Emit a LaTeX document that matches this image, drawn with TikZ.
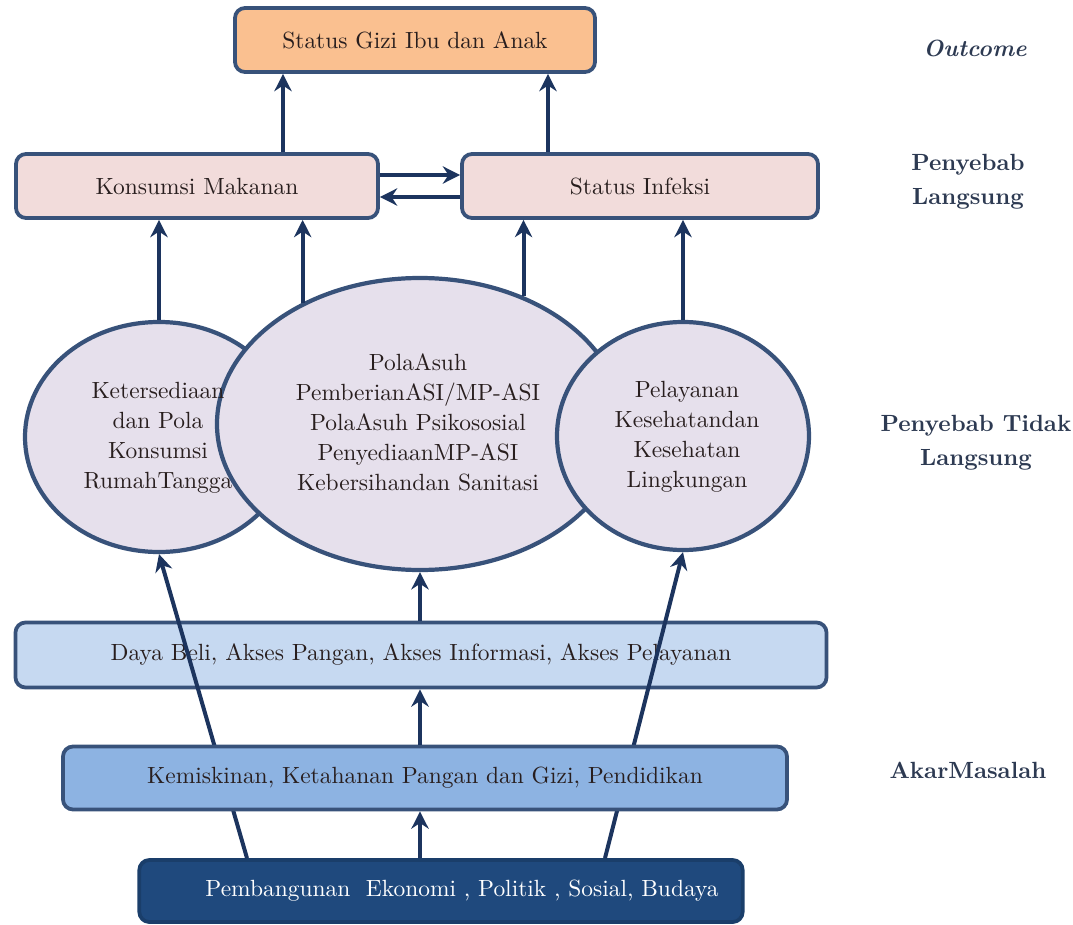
\documentclass[tikz,border=0pt]{standalone}
\usetikzlibrary{shapes.geometric,arrows.meta}
\definecolor{garis}{RGB}{56,82,122}
\definecolor{panahc}{RGB}{28,52,94}
\definecolor{oranye}{RGB}{250,192,144}
\definecolor{merahmuda}{RGB}{242,220,219}
\definecolor{lavender}{RGB}{230,224,236}
\definecolor{birumuda}{RGB}{198,217,241}
\definecolor{birusedang}{RGB}{141,179,226}
\definecolor{birutua}{RGB}{31,73,125}
\definecolor{teks}{RGB}{40,30,30}
\definecolor{label}{RGB}{45,58,82}
\begin{document}
\begin{tikzpicture}[x=0.015cm,y=-0.015cm,
    kotak/.style={draw=garis,line width=1.6pt,rounded corners=1.5mm,text=teks,minimum height=0.96cm,inner sep=0pt},
    lingkar/.style={ellipse,draw=garis,line width=1.8pt,fill=lavender,inner sep=0pt},
    isi/.style={text=teks,align=center,font=\fontsize{10}{12.8}\selectfont},
    ket/.style={text=label,align=center,font=\bfseries\fontsize{10}{14.5}\selectfont},
    panah/.style={draw=panahc,line width=1.7pt,-{Stealth[length=2.6mm,width=2.6mm]}}]
        \useasboundingbox (0,0) rectangle (1073,925);

        % Outcome
        \node[kotak,fill=oranye,minimum width=5.4cm] (status) at (415,40) {Status Gizi Ibu dan Anak};

        % Penyebab langsung
        \node[kotak,fill=merahmuda,minimum width=5.43cm] (konsumsi) at (197,186) {Konsumsi Makanan};
        \node[kotak,fill=merahmuda,minimum width=5.34cm] (infeksi) at (640,186) {Status Infeksi};
        \draw[panah] (konsumsi.north -| 283,0) -- (status.south -| 283,0);
        \draw[panah] (infeksi.north -| 548,0) -- (status.south -| 548,0);
        \draw[panah] ([yshift=0.165cm]konsumsi.east) -- ([yshift=0.165cm]infeksi.west);
        \draw[panah] ([yshift=-0.165cm]infeksi.west) -- ([yshift=-0.165cm]konsumsi.east);

        % Penyebab tidak langsung
        \node[lingkar,minimum width=4.02cm,minimum height=3.45cm] (kiri) at (159,437) {};
        \node[lingkar,minimum width=6.09cm,minimum height=4.38cm] (tengah) at (420,424) {};
        \node[lingkar,minimum width=3.78cm,minimum height=3.42cm] (kanan) at (683,436) {};
        \node[isi] (tkiri) at (158,438) {Ketersediaan\\dan Pola\\Konsumsi\\RumahTangga};
        \node[isi] (ttengah) at (418,422) {PolaAsuh\\PemberianASI/MP-ASI\\PolaAsuh Psikososial\\PenyediaanMP-ASI\\Kebersihandan Sanitasi};
        \node[isi] (tkanan) at (687,437) {Pelayanan\\Kesehatandan\\Kesehatan\\Lingkungan};
        \draw[panah] (kiri.north) -- (kiri.north |- konsumsi.south);
        \draw[panah] (tengah.134) -- (tengah.134 |- konsumsi.south);
        \draw[panah] (tengah.51) -- (tengah.51 |- infeksi.south);
        \draw[panah] (kanan.north) -- (kanan.north |- infeksi.south);

        % Akar masalah
        \node[kotak,fill=birumuda,minimum width=12.165cm,minimum height=0.975cm] (daya) at (421,655) {Daya Beli, Akses Pangan, Akses Informasi, Akses Pelayanan\hspace{0.69cm}};
        \node[kotak,fill=birutua,draw=birutua!85!black,text=white,minimum width=9.05cm,minimum height=0.93cm] (bangun) at (441,891) {\hspace{0.63cm}Pembangunan~~Ekonomi , Politik , Sosial, Budaya};
        \draw[panah] (bangun.north -| 247,0) -- (kiri.south);
        \draw[panah] (bangun.north -| 605,0) -- (kanan.south);
        \node[kotak,fill=birusedang,minimum width=10.86cm,minimum height=0.945cm] (miskin) at (425,778) {Kemiskinan, Ketahanan Pangan dan Gizi, Pendidikan\hspace{0.6cm}};
        \draw[panah] (bangun.north -| tengah.south) -- (miskin.south -| tengah.south);
        \draw[panah] (miskin.north -| tengah.south) -- (daya.south -| tengah.south);
        \draw[panah] (daya.north -| tengah.south) -- (tengah.south);

        % Keterangan
        \node[ket,font=\bfseries\itshape\fontsize{10}{14.5}\selectfont] (lout) at (975,48) {Outcome};
        \node[ket] (llangsung) at (968,182) {Penyebab\\Langsung};
        \node[ket] (ltidak) at (976,443) {Penyebab Tidak\\Langsung};
        \node[ket] (lakar) at (968,770) {AkarMasalah};
      \end{tikzpicture}
\end{document}
